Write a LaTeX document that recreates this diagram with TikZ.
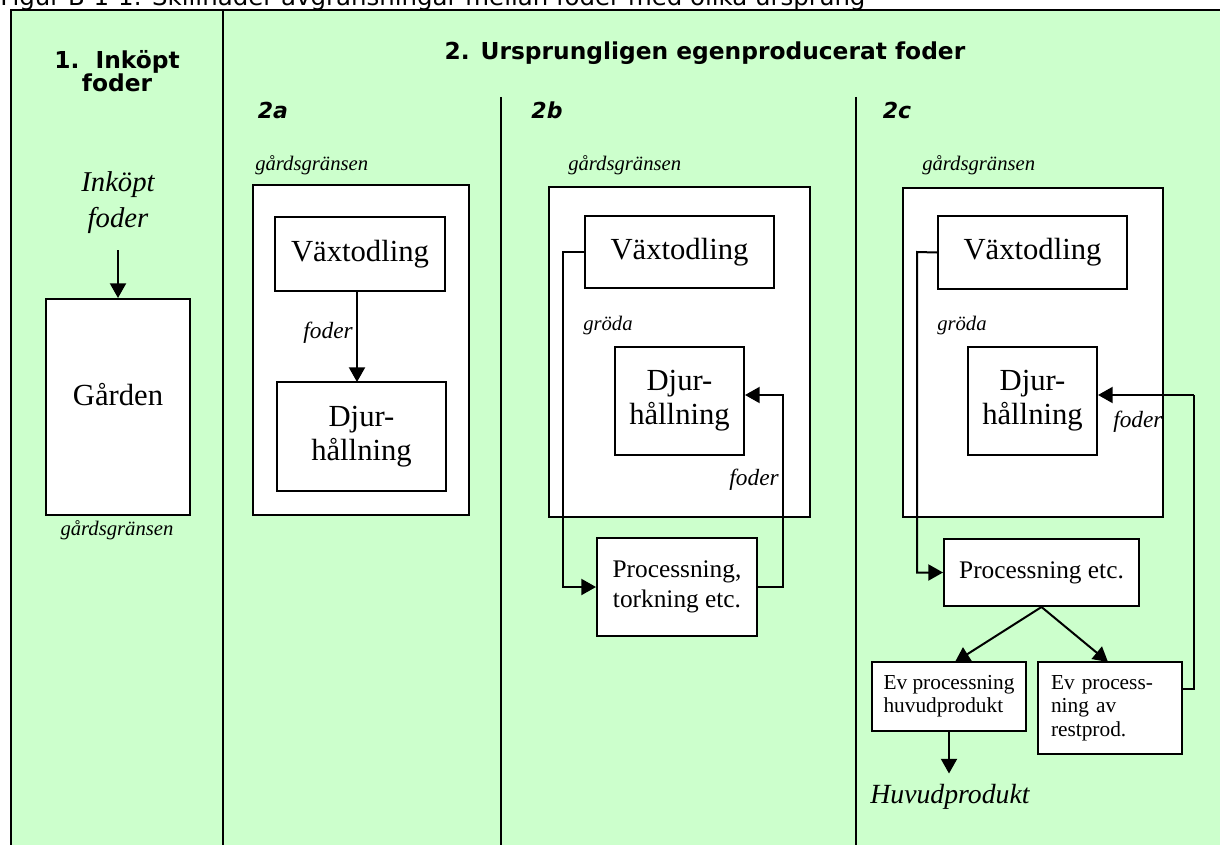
\documentclass[tikz,border=0pt]{standalone}
\usepackage{graphicx}
\usepackage{fontspec}
\setmainfont{Liberation Serif}
\newfontfamily\hdr{DejaVu Sans}
\usetikzlibrary{arrows.meta}
\definecolor{bg}{HTML}{CCFFCC}
\begin{document}
\begin{tikzpicture}[x=0.75pt,y=-0.75pt,
  ln/.style={line width=1.5pt},
  box/.style={draw,fill=white,line width=1.5pt,inner sep=0pt,align=center},
  wh/.style 2 args={minimum width=#1*0.75pt,minimum height=#2*0.75pt},
  arr/.style={line width=1.5pt,-{Triangle[length=11pt,width=12pt]}},
  big/.style={font=\fontsize{23}{26}\selectfont},
  mid/.style={font=\fontsize{19}{22.5}\selectfont},
  sml/.style={font=\fontsize{16}{17.5}\selectfont},
  lab/.style={font=\fontsize{15.5}{18}\selectfont\itshape,inner sep=0pt},
  fod/.style={font=\fontsize{17.5}{20}\selectfont\itshape,inner sep=0pt},
  hd/.style={font=\hdr\bfseries\fontsize{17.5}{17}\selectfont,inner sep=0pt},
  sub/.style={font=\hdr\bfseries\itshape\fontsize{16.5}{18}\selectfont,inner sep=0pt}]
\useasboundingbox (0,0) rectangle (1220,845);
\clip (0,0) rectangle (1220,845);
\fill[white] (0,0) rectangle (1220,845);
% caption (cut off at the top)
\node[anchor=base west,inner sep=0pt,font=\hdr] (cap) at (0,5.5)
  {\resizebox{648.75pt}{!}{Figur B-1-1: Skillnader avgränsningar mellan foder med olika ursprung}};
% frame
\path[fill=bg,draw,ln] (11,10) rectangle (1240,870);
\draw[ln] (223,10) -- (223,850);
\draw[ln] (501,97) -- (501,850);
\draw[ln] (856,97) -- (856,850);
% headers
\node[hd,align=center] (h1) at (117,71) {1.\ \ Inköpt\\foder};
\node[hd] (h2) at (705,53) {2. Ursprungligen egenproducerat foder};
\node[sub] (s2a) at (273,110) {2a};
\node[sub] (s2b) at (547,110) {2b};
\node[sub] (s2c) at (897,110) {2c};
% column 1
\node[inner sep=0pt,align=center,font=\fontsize{21.5}{27}\selectfont\itshape] (ink) at (118,203) {Inköpt\\foder};
\coordinate (a1) at (118,250);
\node[box,wh={144}{216},font=\fontsize{23}{27}\selectfont] (gard) at (118,407) {\raisebox{1.5pt}[0pt][0pt]{Gården}};
\draw[arr] (a1) -- (gard.north);
\node[lab,anchor=base] (g1) at (117,535) {gårdsgränsen};
% column 2a
\node[lab,anchor=base west] (g2al) at (255,171) {gårdsgränsen};
\node[box,wh={216}{330}] (g2a) at (361,350) {};
\node[box,big,wh={170}{74}] (v2a) at (360,254) {Växtodling};
\node[box,big,wh={169}{109}] (d2a) at (361.5,436.5) {Djur-\\hållning};
\draw[arr] (357,291) -- (357,382);
\node[fod,anchor=base east] (f2a) at (353,338) {foder};
% column 2b
\node[lab,anchor=base west] (g2bl) at (568,171) {gårdsgränsen};
\node[box,wh={261}{330}] (g2b) at (679.5,352) {};
\node[box,big,wh={189}{72}] (v2b) at (679.5,252) {Växtodling};
\node[lab,anchor=base west] (gr2b) at (583,330) {gröda};
\node[box,font=\fontsize{23}{25.5}\selectfont,wh={129}{108}] (d2b) at (679.5,401) {Djur-\\hållning};
\node[box,mid,wh={160}{98}] (p2b) at (677,587) {Processning,\\torkning etc.};
\draw[arr] (v2b.west) -- (563,252) |- (p2b.west);
\coordinate (k2b) at (783,395);
\draw[arr] (p2b.east) -| (k2b) -- (k2b -| d2b.east);
\node[fod,anchor=base east] (f2b) at (779,485) {foder};
% column 2c
\node[lab,anchor=base west] (g2cl) at (922,171) {gårdsgränsen};
\node[box,wh={260}{329}] (g2c) at (1033,352.5) {};
\node[box,big,wh={189}{73}] (v2c) at (1032.5,252.5) {Växtodling};
\node[lab,anchor=base west] (gr2c) at (937,330) {gröda};
\node[box,font=\fontsize{23}{25.5}\selectfont,wh={129}{108}] (d2c) at (1032.5,401) {Djur-\\hållning};
\node[fod,anchor=base west] (f2c) at (1113,427) {foder};
\node[box,mid,wh={195}{67}] (p2c) at (1041.5,572.5) {Processning etc.};
\node[box,sml,wh={154}{69},align=left] (e1) at (949,696.5) {Ev processning\\huvudprodukt};
\node[box,sml,wh={144}{92},text width=88.5pt,align=left] (e2) at (1110,708) {Ev process-\\ning av\\restprod.};
\draw[arr] (v2c.west) -- (917,252) |- (p2c.west);
\draw[arr] (p2c.south) -- (955,662);
\draw[arr] (p2c.south) -- (1108,662);
\coordinate (k2c) at (1194,395);
\draw[ln] (e2.east |- 0,689) -| (k2c);
\draw[arr] (k2c) -- (k2c -| d2c.east);
\node[inner sep=8pt,font=\fontsize{20.8}{24}\selectfont\itshape] (huv) at (950,797) {Huvudprodukt};
\draw[arr] (e1.south) -- (e1.south |- huv.north);
\end{tikzpicture}
\end{document}
